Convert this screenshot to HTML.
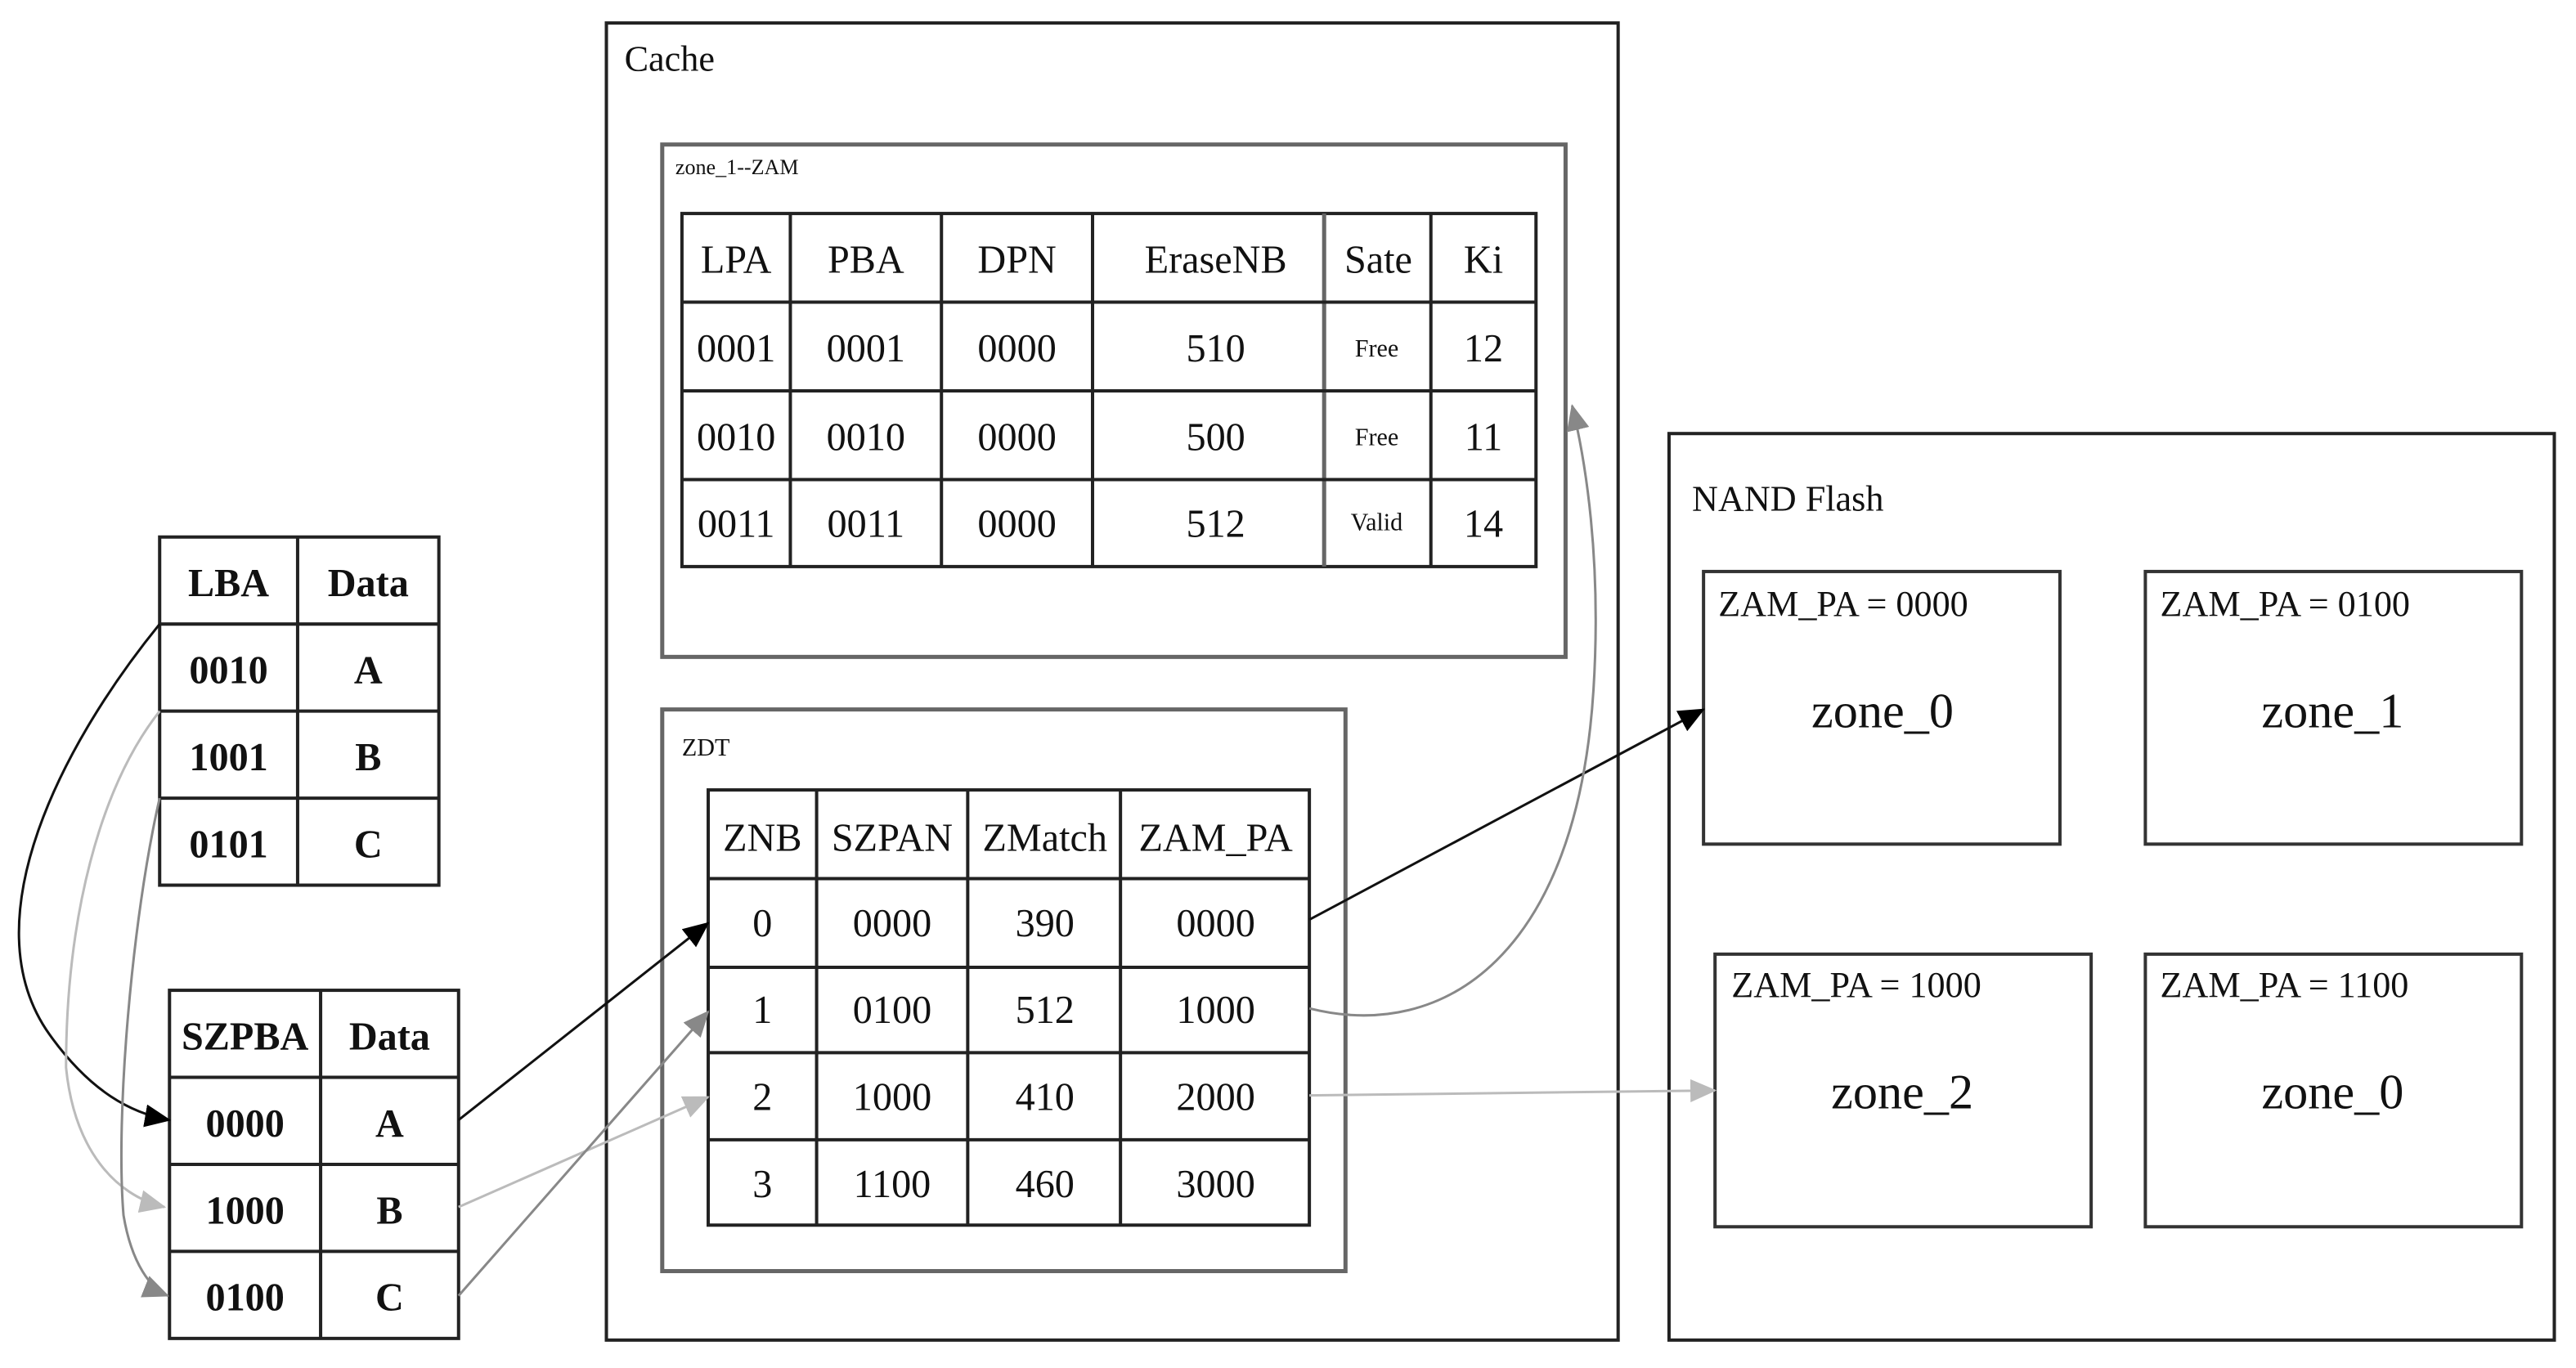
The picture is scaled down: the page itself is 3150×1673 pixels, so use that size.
<!DOCTYPE html>
<html><head><meta charset="utf-8"><style>
html,body{margin:0;padding:0;background:#fff;}
svg{display:block;}
text{font-family:"Liberation Serif",serif;fill:#111;}
</style></head><body>
<svg width="3150" height="1673" viewBox="0 0 1568 833" xmlns="http://www.w3.org/2000/svg">
<defs>
<marker id="ab" markerWidth="16" markerHeight="14" refX="15" refY="7" orient="auto" markerUnits="userSpaceOnUse" viewBox="0 0 16 14"><path d="M0,0 L16,7 L0,14 z" fill="#000"/></marker>
<marker id="ag" markerWidth="16" markerHeight="14" refX="15" refY="7" orient="auto" markerUnits="userSpaceOnUse" viewBox="0 0 16 14"><path d="M0,0 L16,7 L0,14 z" fill="#888"/></marker>
<marker id="al" markerWidth="16" markerHeight="14" refX="15" refY="7" orient="auto" markerUnits="userSpaceOnUse" viewBox="0 0 16 14"><path d="M0,0 L16,7 L0,14 z" fill="#bbb"/></marker>
</defs>
<g fill="none" stroke-width="2">
<rect x="369" y="14" width="616" height="802" stroke="#222"/>
<rect x="403" y="88" width="550" height="312" stroke="#666" stroke-width="2.5"/>
<rect x="403" y="432" width="416" height="342" stroke="#666" stroke-width="2.5"/>
<rect x="415" y="130" width="520" height="215" stroke="#222"/>
<g stroke="#222"><line x1="481" y1="130" x2="481" y2="345"/><line x1="573" y1="130" x2="573" y2="345"/><line x1="665" y1="130" x2="665" y2="345"/><line x1="806" y1="130" x2="806" y2="345" stroke="#666" stroke-width="2.5"/><line x1="871" y1="130" x2="871" y2="345"/>
<line x1="415" y1="184" x2="935" y2="184"/><line x1="415" y1="238" x2="935" y2="238"/><line x1="415" y1="292" x2="935" y2="292"/></g>
<rect x="431" y="481" width="366" height="265" stroke="#222"/>
<g stroke="#222"><line x1="497" y1="481" x2="497" y2="746"/><line x1="589" y1="481" x2="589" y2="746"/><line x1="682" y1="481" x2="682" y2="746"/>
<line x1="431" y1="535" x2="797" y2="535"/><line x1="431" y1="589" x2="797" y2="589"/><line x1="431" y1="641" x2="797" y2="641"/><line x1="431" y1="694" x2="797" y2="694"/></g>
<rect x="1016" y="264" width="539" height="552" stroke="#222"/>
<rect x="1037" y="348" width="217" height="166" stroke="#333"/>
<rect x="1306" y="348" width="229" height="166" stroke="#333"/>
<rect x="1044" y="581" width="229" height="166" stroke="#333"/>
<rect x="1306" y="581" width="229" height="166" stroke="#333"/>
<rect x="97" y="327" width="170" height="212" stroke="#222"/>
<g stroke="#222"><line x1="181" y1="327" x2="181" y2="539"/><line x1="97" y1="380" x2="267" y2="380"/><line x1="97" y1="433" x2="267" y2="433"/><line x1="97" y1="486" x2="267" y2="486"/></g>
<rect x="103" y="603" width="176" height="212" stroke="#222"/>
<g stroke="#222"><line x1="195" y1="603" x2="195" y2="815"/><line x1="103" y1="656" x2="279" y2="656"/><line x1="103" y1="709" x2="279" y2="709"/><line x1="103" y1="762" x2="279" y2="762"/></g>
<path d="M97,380 C40,450 -20,560 30,630 C55,665 80,678 103,682" stroke="#111" stroke-width="1.5" marker-end="url(#ab)"/>
<path d="M97,433 C60,480 40,560 40,650 C45,700 70,728 100,735" stroke="#bbb" stroke-width="1.5" marker-end="url(#al)"/>
<path d="M97,486 C80,560 70,680 75,740 C80,770 92,785 102,789" stroke="#888" stroke-width="1.5" marker-end="url(#ag)"/>
<line x1="279" y1="682" x2="431" y2="562" stroke="#111" stroke-width="1.5" marker-end="url(#ab)"/>
<line x1="279" y1="735" x2="431" y2="668" stroke="#bbb" stroke-width="1.5" marker-end="url(#al)"/>
<line x1="279" y1="789" x2="431" y2="616" stroke="#888" stroke-width="1.5" marker-end="url(#ag)"/>
<line x1="797" y1="560" x2="1037" y2="432" stroke="#111" stroke-width="1.5" marker-end="url(#ab)"/>
<path d="M797,614 C880,635 960,580 970,420 C975,340 965,280 957,247" stroke="#888" stroke-width="1.5" marker-end="url(#ag)"/>
<line x1="797" y1="667" x2="1044" y2="664" stroke="#bbb" stroke-width="1.5" marker-end="url(#al)"/>
</g>
<g font-size="22">
<text x="380" y="43">Cache</text>
<text x="1030" y="311">NAND Flash</text>
</g>
<text x="411" y="106" font-size="13">zone_1--ZAM</text>
<text x="415" y="460" font-size="15">ZDT</text>
<g font-size="24" text-anchor="middle">
<text x="448" y="166">LPA</text><text x="527" y="166">PBA</text><text x="619" y="166">DPN</text><text x="740" y="166">EraseNB</text><text x="839" y="166">Sate</text><text x="903" y="166">Ki</text>
<text x="448" y="220">0001</text><text x="527" y="220">0001</text><text x="619" y="220">0000</text><text x="740" y="220">510</text><text x="903" y="220">12</text>
<text x="448" y="274">0010</text><text x="527" y="274">0010</text><text x="619" y="274">0000</text><text x="740" y="274">500</text><text x="903" y="274">11</text>
<text x="448" y="327">0011</text><text x="527" y="327">0011</text><text x="619" y="327">0000</text><text x="740" y="327">512</text><text x="903" y="327">14</text>
<text x="464" y="518">ZNB</text><text x="543" y="518">SZPAN</text><text x="636" y="518">ZMatch</text><text x="740" y="518">ZAM_PA</text>
<text x="464" y="570">0</text><text x="543" y="570">0000</text><text x="636" y="570">390</text><text x="740" y="570">0000</text>
<text x="464" y="623">1</text><text x="543" y="623">0100</text><text x="636" y="623">512</text><text x="740" y="623">1000</text>
<text x="464" y="676">2</text><text x="543" y="676">1000</text><text x="636" y="676">410</text><text x="740" y="676">2000</text>
<text x="464" y="729">3</text><text x="543" y="729">1100</text><text x="636" y="729">460</text><text x="740" y="729">3000</text>
</g>
<g font-size="15" text-anchor="middle">
<text x="838" y="217">Free</text><text x="838" y="271">Free</text><text x="838" y="323">Valid</text>
</g>
<g font-size="24" font-weight="bold" text-anchor="middle">
<text x="139" y="363">LBA</text><text x="224" y="363">Data</text>
<text x="139" y="416">0010</text><text x="224" y="416">A</text>
<text x="139" y="469">1001</text><text x="224" y="469">B</text>
<text x="139" y="522">0101</text><text x="224" y="522">C</text>
<text x="149" y="639">SZPBA</text><text x="237" y="639">Data</text>
<text x="149" y="692">0000</text><text x="237" y="692">A</text>
<text x="149" y="745">1000</text><text x="237" y="745">B</text>
<text x="149" y="798">0100</text><text x="237" y="798">C</text>
</g>
<g font-size="22">
<text x="1046" y="375">ZAM_PA = 0000</text><text x="1315" y="375">ZAM_PA = 0100</text>
<text x="1054" y="607">ZAM_PA = 1000</text><text x="1315" y="607">ZAM_PA = 1100</text>
</g>
<g font-size="30" text-anchor="middle">
<text x="1146" y="443">zone_0</text><text x="1420" y="443">zone_1</text>
<text x="1158" y="675">zone_2</text><text x="1420" y="675">zone_0</text>
</g>
</svg>
</body></html>
